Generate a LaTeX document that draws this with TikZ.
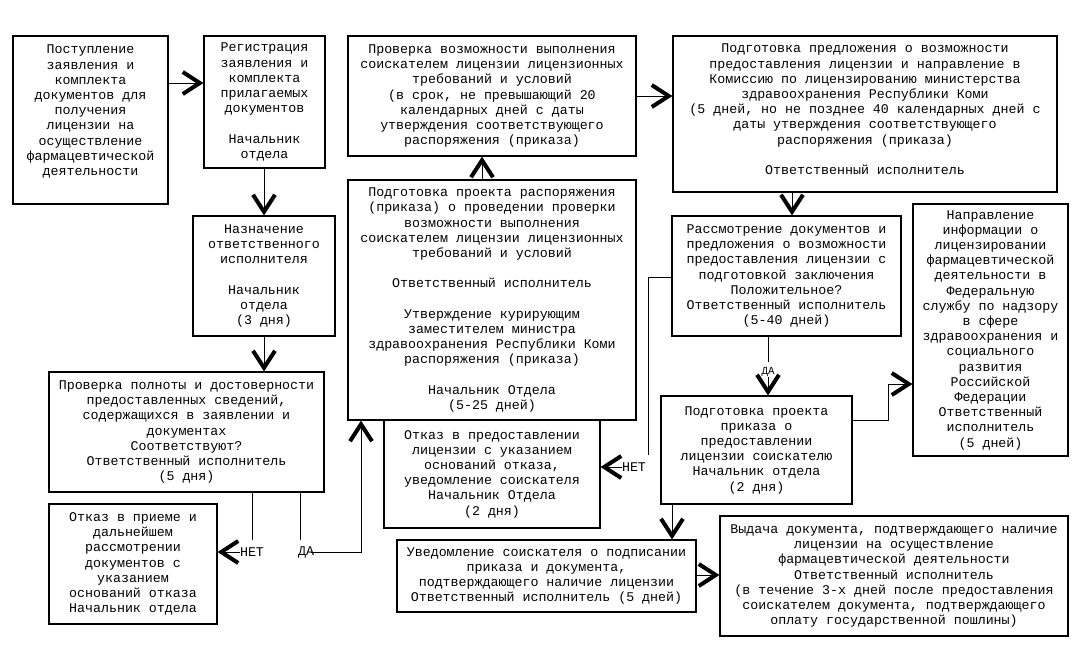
\documentclass[tikz,border=0pt]{standalone}
\usepackage{fontspec}
\newfontfamily\cour{Liberation Mono}
\usetikzlibrary{arrows.meta}
\begin{document}
\begin{tikzpicture}[x=1pt,y=-1pt,
 box/.style={draw, line width=1.1pt, inner sep=0pt, align=center, font=\cour\fontsize{13.3}{15.2}\selectfont},
 lbl/.style={inner sep=0pt, font=\cour\fontsize{13.3}{15.2}\selectfont},
 slbl/.style={inner sep=0pt, font=\cour\fontsize{10.8}{12}\selectfont},
 conn/.style={line width=1pt},
 arr/.style={conn, -{Straight Barb[length=17pt,width=22pt,line width=4pt]}}]
\useasboundingbox (0,0) rectangle (1081,649);

\node[box, minimum width=155, minimum height=168] (A) at (90.5,120) {Поступление\\заявления и\\комплекта\\документов для\\получения\\лицензии на\\осуществление\\фармацевтической\\деятельности\\[4pt]\mbox{}};

\node[box, minimum width=121, minimum height=132] (B) at (264.5,102) {Регистрация\\заявления и\\комплекта\\прилагаемых\\документов\\ \mbox{}\\Начальник\\отдела};

\node[box, minimum width=288, minimum height=120] (C) at (492,96) {Проверка возможности выполнения\\соискателем лицензии лицензионных\\требований и условий\\(в срок, не превышающий 20\\календарных дней с даты\\утверждения соответствующего\\распоряжения (приказа)};

\node[box, minimum width=384, minimum height=156] (D) at (865,114) {Подготовка предложения о возможности\\предоставления лицензии и направление в\\Комиссию по лицензированию министерства\\здравоохранения Республики Коми\\(5 дней, но не позднее 40 календарных дней с\\даты утверждения соответствующего\\распоряжения (приказа)\\ \mbox{}\\Ответственный исполнитель\\[-6pt]\mbox{}};

\node[box, minimum width=142, minimum height=120] (E) at (264,276) {Назначение\\ответственного\\исполнителя\\ \mbox{}\\Начальник\\отдела\\(3 дня)};

\node[box, minimum width=288, minimum height=240] (G) at (492,300) {Подготовка проекта распоряжения\\(приказа) о проведении проверки\\возможности выполнения\\соискателем лицензии лицензионных\\требований и условий\\ \mbox{}\\Ответственный исполнитель\\ \mbox{}\\Утверждение курирующим\\заместителем министра\\здравоохранения Республики Коми\\распоряжения (приказа)\\ \mbox{}\\Начальник Отдела\\(5-25 дней)};

\node[box, minimum width=229, minimum height=120] (H) at (786.5,276) {Рассмотрение документов и\\предложения о возможности\\предоставления лицензии с\\подготовкой заключения\\Положительное?\\Ответственный исполнитель\\(5-40 дней)};

\node[box, minimum width=155, minimum height=252] (I) at (990.5,330) {Направление\\информации о\\лицензировании\\фармацевтической\\деятельности в\\Федеральную\\службу по надзору\\в сфере\\здравоохранения и\\социального\\развития\\Российской\\Федерации\\Ответственный\\исполнитель\\(5 дней)};

\node[box, minimum width=275, minimum height=120] (F) at (186.5,432) {Проверка полноты и достоверности\\предоставленных сведений,\\содержащихся в заявлении и\\документах\\Соответствуют?\\Ответственный исполнитель\\(5 дня)};

\node[box, minimum width=191, minimum height=108] (J) at (756.5,450) {Подготовка проекта\\приказа о\\предоставлении\\лицензии соискателю\\Начальник отдела\\(2 дня)};

\node[box, minimum width=216, minimum height=108] (K) at (492,474) {Отказ в предоставлении\\лицензии с указанием\\оснований отказа,\\уведомление соискателя\\Начальник Отдела\\(2 дня)};

\node[box, minimum width=168, minimum height=120] (L) at (133,564) {Отказ в приеме и\\дальнейшем\\рассмотрении\\документов с\\указанием\\оснований отказа\\Начальник отдела};

\node[box, minimum width=299, minimum height=72] (M) at (546.5,576) {Уведомление соискателя о подписании\\приказа и документа,\\подтверждающего наличие лицензии\\Ответственный исполнитель (5 дней)};

\node[box, minimum width=348, minimum height=120] (N) at (894,576) {Выдача документа, подтверждающего наличие\\лицензии на осуществление\\фармацевтической деятельности\\Ответственный исполнитель\\(в течение 3-х дней после предоставления\\соискателем документа, подтверждающего\\оплату государственной пошлины)};

% labels
\node[lbl] (nL) at (252,552) {НЕТ};
\node[lbl] (dL) at (306,552) {ДА};
\node[lbl] (nR) at (634,467) {НЕТ};
\node[slbl] (dR) at (768,372) {ДА};
\coordinate (nLtop) at (252,540);
\coordinate (dLtop) at (300,540);
\coordinate (nRtop) at (648,455);
\coordinate (dRtop) at (768,362);

% connectors
\draw[arr] (A.east |- 0,83) -- (B.west |- 0,83);
\draw[arr] (E.north |- B.south) -- (E.north);
\draw[arr] (E.south) -- (F.north -| E.south);
\draw[arr] (G.north -| 482,0) -- (C.south -| 482,0);
\draw[arr] (C.east |- 0,96) -- (D.west |- 0,96);
\draw[arr] (D.south -| 792,0) -- (H.north -| 792,0);

\draw[conn] (F.south -| nLtop) -- (nLtop);
\draw[arr] (nL.west) -- (L.east |- nL.west);
\draw[conn] (F.south -| dLtop) -- (dLtop);
\draw[arr] ([xshift=-3pt]dL.east) -| (G.south -| 361,0);

\draw[conn] (H.west |- 0,277) -| (nRtop);
\draw[arr] (nR.west) -- (K.east |- nR.west);
\draw[conn] (H.south -| dRtop) -- (dRtop);
\draw[arr] (dR.south) -- (J.north -| dR.south);

\draw[arr] (J.east |- 0,420) -| (888,384) -- (I.west |- 0,384);
\draw[arr] (J.south -| 672,0) -- (M.north -| 672,0);
\draw[arr] (M.east |- 0,575) -- (N.west |- 0,575);
\end{tikzpicture}
\end{document}
